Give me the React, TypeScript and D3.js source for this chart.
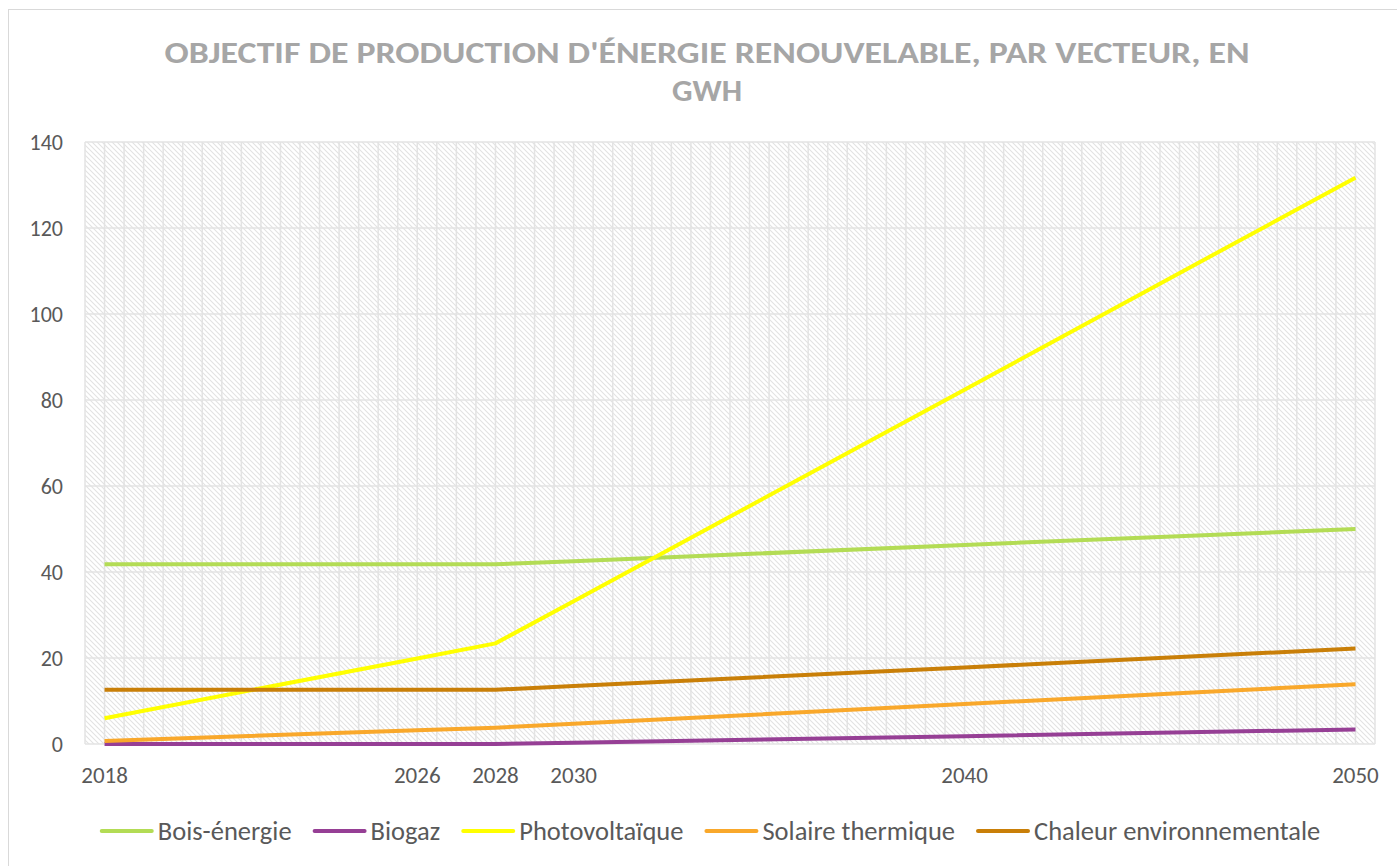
import React, { FC, useEffect, useRef } from "react"
import { select, scaleLinear, line, range } from "d3"

// data
const years = [2018, 2026, 2028, 2030, 2040, 2050]
const boisEnergie = [41.8, 41.8, 41.8, 42.5, 46.3, 50.0]
const biogaz = [0, 0, 0, 0.3, 1.8, 3.4]
const photovoltaique = [6.0, 19.9, 23.4, 33.2, 82.4, 131.7]
const solaireThermique = [0.7, 3.2, 3.8, 4.7, 9.3, 13.9]
const chaleurEnvironnementale = [12.6, 12.6, 12.6, 13.5, 17.8, 22.2]

const seriesNames = [
  "Bois-énergie",
  "Biogaz",
  "Photovoltaïque",
  "Solaire thermique",
  "Chaleur environnementale",
]
const seriesValues = [
  boisEnergie,
  biogaz,
  photovoltaique,
  solaireThermique,
  chaleurEnvironnementale,
]
const seriesColors = ["#b3dc55", "#963f95", "#ffff00", "#f9a82b", "#c97f08"]

const yTicks = [0, 20, 40, 60, 80, 100, 120, 140]
const titleLines = [
  "OBJECTIF DE PRODUCTION D'ÉNERGIE RENOUVELABLE, PAR VECTEUR, EN",
  "GWH",
]

const App: FC = () => {
  const ref = useRef<HTMLDivElement>(null)

  useEffect(() => {
    const width = 1397
    const height = 866
    const plot = { left: 85, right: 1375, top: 142, bottom: 744 }
    const gridColor = "#d9d9d9"
    const textColor = "#595959"
    const font = "Carlito, Calibri, 'Open Sans', sans-serif"

    const root = select(ref.current)
    root.selectAll("*").remove()

    const svg = root
      .append("svg")
      .attr("width", width)
      .attr("height", height)
      .style("display", "block")
      .style("font-family", font)

    svg.append("rect").attr("width", width).attr("height", height).attr("fill", "#fff")

    // outer chart border
    svg
      .append("rect")
      .attr("x", 8.5)
      .attr("y", 9.5)
      .attr("width", width + 10)
      .attr("height", height + 10)
      .attr("fill", "none")
      .attr("stroke", gridColor)

    // hatch pattern
    const pattern = svg
      .append("defs")
      .append("pattern")
      .attr("id", "hatch")
      .attr("patternUnits", "userSpaceOnUse")
      .attr("width", 5)
      .attr("height", 5)
    pattern
      .append("path")
      .attr("d", "M-1,-1 L6,6 M-1,4 L1,6 M4,-1 L6,1")
      .attr("stroke", "#e2e2e2")
      .attr("stroke-width", 1.1)

    // scales
    const xScale = scaleLinear().domain([2017.5, 2050.5]).range([plot.left, plot.right])
    const yScale = scaleLinear().domain([0, 140]).range([plot.bottom, plot.top])

    // title (condensed like the original)
    svg
      .append("g")
      .selectAll("text")
      .data(titleLines)
      .join("text")
      .attr("x", 707)
      .attr("y", (_, i) => 63 + i * 38)
      .attr("text-anchor", "middle")
      .attr("fill", "#a6a6a6")
      .attr("font-weight", "bold")
      .attr("font-size", 31)
      .attr("textLength", (_, i) => (i === 0 ? 1085 : 70))
      .attr("lengthAdjust", "spacingAndGlyphs")
      .text((d) => d)

    // plot background
    svg
      .append("rect")
      .attr("x", plot.left)
      .attr("y", plot.top)
      .attr("width", plot.right - plot.left)
      .attr("height", plot.bottom - plot.top)
      .attr("fill", "url(#hatch)")

    // gridlines
    const grid = svg.append("g").attr("stroke", "#e3e3e3").attr("stroke-width", 1.5)
    grid
      .selectAll("line.v")
      .data(range(2017.5, 2050.51, 0.5))
      .join("line")
      .attr("class", "v")
      .attr("x1", (d) => xScale(d))
      .attr("x2", (d) => xScale(d))
      .attr("y1", plot.top)
      .attr("y2", plot.bottom)
    grid
      .selectAll("line.h")
      .data(yTicks)
      .join("line")
      .attr("class", "h")
      .attr("x1", plot.left)
      .attr("x2", plot.right)
      .attr("y1", (d) => yScale(d))
      .attr("y2", (d) => yScale(d))

    // axis labels
    svg
      .append("g")
      .selectAll("text")
      .data(yTicks)
      .join("text")
      .attr("x", 63)
      .attr("y", (d) => yScale(d) + 7.5)
      .attr("text-anchor", "end")
      .attr("fill", textColor)
      .attr("font-size", 22)
      .text((d) => d)

    svg
      .append("g")
      .selectAll("text")
      .data(years)
      .join("text")
      .attr("x", (d) => xScale(d))
      .attr("y", 783)
      .attr("text-anchor", "middle")
      .attr("fill", textColor)
      .attr("font-size", 23)
      .text((d) => d)

    // lines
    const lineGen = line<number>()
      .x((_, i) => xScale(years[i]))
      .y((d) => yScale(d))

    svg
      .append("g")
      .selectAll("path")
      .data(seriesValues)
      .join("path")
      .attr("d", (d) => lineGen(d))
      .attr("fill", "none")
      .attr("stroke", (_, i) => seriesColors[i])
      .attr("stroke-width", 4)
      .attr("stroke-linejoin", "round")

    // legend
    const legend = svg.append("g")
    const items = legend
      .selectAll("g")
      .data(seriesNames)
      .join("g")
    items
      .append("line")
      .attr("x1", 2)
      .attr("x2", 52)
      .attr("y1", 0)
      .attr("y2", 0)
      .attr("stroke", (_, i) => seriesColors[i])
      .attr("stroke-width", 4)
      .attr("stroke-linecap", "round")
    items
      .append("text")
      .attr("x", 58)
      .attr("y", 9)
      .attr("fill", textColor)
      .attr("font-size", 26.5)
      .text((d) => d)

    let offset = 0
    const positions: number[] = []
    items.each(function () {
      const t = select(this).select("text").node() as SVGTextElement
      positions.push(offset)
      offset += 58 + t.getComputedTextLength() + 21
    })
    const total = offset - 21
    const startX = 710 - total / 2
    items.attr("transform", (_, i) => `translate(${startX + positions[i]}, 831)`)
  }, [])

  return <div ref={ref} style={{ position: "absolute", left: 0, top: 0 }} />
}

export default App
